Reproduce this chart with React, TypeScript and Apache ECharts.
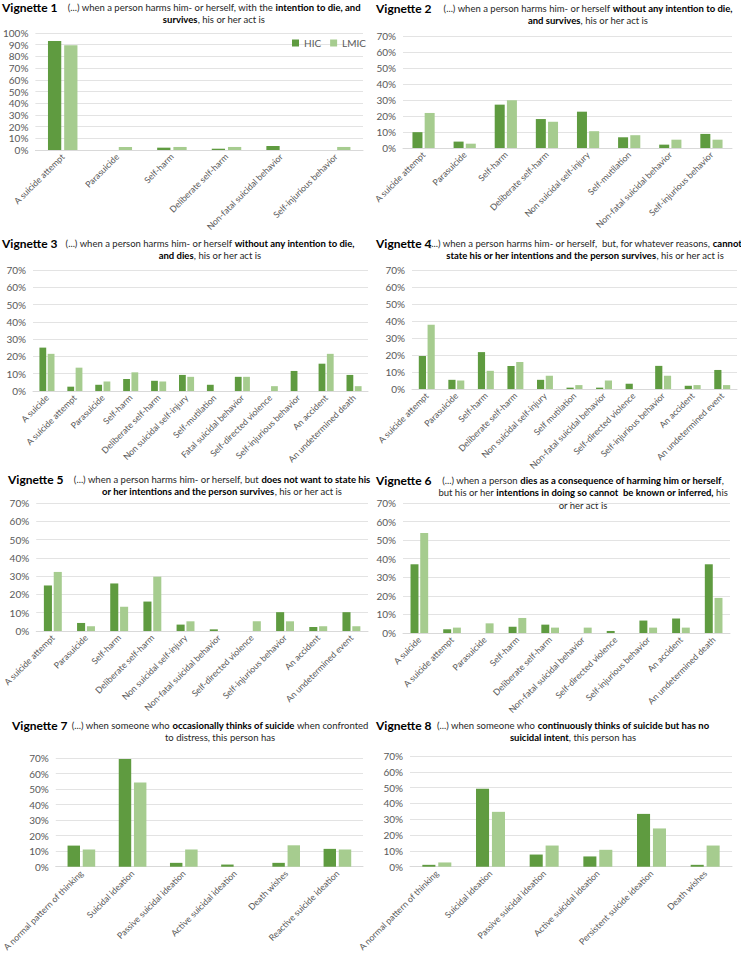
import React, { useEffect, useRef } from 'react';
import * as echarts from 'echarts';

// ---------- data ----------
const cats1 = ['A suicide attempt', 'Parasuicide', 'Self-harm', 'Deliberate self-harm', 'Non-fatal suicidal behavior', 'Self-injurious behavior'];
const hic1 = [93.2, 0, 2.0, 1.1, 3.4, 0];
const lmic1 = [89.5, 2.6, 2.6, 2.6, 0, 2.6];

const cats2 = ['A suicide attempt', 'Parasuicide', 'Self-harm', 'Deliberate self-harm', 'Non suicidal self-injury', 'Self-mutilation', 'Non-fatal suicidal behavior', 'Self-injurious behavior'];
const hic2 = [9.9, 4.0, 27.1, 18.1, 22.7, 6.7, 2.1, 8.8];
const lmic2 = [21.9, 2.7, 29.9, 16.4, 10.5, 8.0, 5.2, 5.2];

const cats3 = ['A suicide', 'A suicide attempt', 'Parasuicide', 'Self-harm', 'Deliberate self-harm', 'Non suicidal self-injury', 'Self-mutilation', 'Fatal suicidal behavior', 'Self-directed violence', 'Self-injurious behavior', 'An accident', 'An undetermined death'];
const hic3 = [25.1, 2.5, 3.6, 7.0, 5.9, 9.3, 3.6, 8.2, 0, 11.6, 15.8, 9.3];
const lmic3 = [21.5, 13.5, 5.5, 10.8, 5.5, 8.2, 0, 8.2, 2.8, 0, 21.5, 2.8];

const cats4 = ['A suicide attempt', 'Parasuicide', 'Self-harm', 'Deliberate self-harm', 'Non suicidal self-injury', 'Self mutilation', 'Non-fatal suicidal behavior', 'Self-directed violence', 'Self-injurious behavior', 'An accident', 'An undetermined event'];
const hic4 = [19.4, 5.4, 21.7, 13.6, 5.4, 0.8, 0.8, 3.1, 13.6, 1.9, 11.2];
const lmic4 = [37.8, 5.0, 10.7, 15.9, 7.8, 2.3, 5.0, 0, 7.8, 2.3, 2.3];

const cats5 = ['A suicide attempt', 'Parasuicide', 'Self-harm', 'Deliberate self-harm', 'Non suicidal self-injury', 'Non-fatal suicidal behavior', 'Self-directed violence', 'Self-injurious behavior', 'An accident', 'An undetermined event'];
const hic5 = [24.9, 4.4, 26.0, 16.1, 3.5, 0.9, 0, 10.3, 2.2, 10.3];
const lmic5 = [32.3, 2.6, 13.2, 29.7, 5.3, 0, 5.3, 5.3, 2.6, 2.6];

const cats6 = ['A suicide', 'A suicide attempt', 'Parasuicide', 'Self-harm', 'Deliberate self-harm', 'Non-fatal suicidal behavior', 'Self-directed violence', 'Self-injurious behavior', 'An accident', 'An undetermined death'];
const hic6 = [37.0, 2.0, 0, 3.4, 4.5, 0, 1.1, 6.7, 7.8, 37.0];
const lmic6 = [53.9, 2.9, 5.2, 8.1, 2.9, 2.9, 0, 2.9, 2.9, 18.9];

const cats7 = ['A normal pattern of thinking', 'Suicidal ideation', 'Passive suicidal ideation', 'Active suicidal ideation', 'Death wishes', 'Reactive suicide ideation'];
const hic7 = [13.6, 69.4, 2.5, 1.4, 2.5, 11.5];
const lmic7 = [11.1, 54.2, 11.1, 0, 13.8, 11.1];

const cats8 = ['A normal pattern of thinking', 'Suicidal ideation', 'Passive suicidal ideation', 'Active suicidal ideation', 'Persistent suicide ideation', 'Death wishes'];
const hic8 = [1.2, 49.3, 7.7, 6.5, 33.4, 1.2];
const lmic8 = [2.7, 34.7, 13.4, 10.7, 24.2, 13.4];

const yMax = [100, 70, 70, 70, 70, 70, 70, 70];
const seriesNames = ['HIC', 'LMIC'];

const vignetteLabels = ['Vignette 1', 'Vignette 2', 'Vignette 3', 'Vignette 4', 'Vignette 5', 'Vignette 6', 'Vignette 7', 'Vignette 8'];
const titleTexts = [
  '(...) when a person harms him- or herself, with the {b|intention to die, and}\n{b|survives}, his or her act is',
  '(...) when a person harms him- or herself {b|without any intention to die,}\n{b|and survives}, his or her act is',
  '(...) when a person harms him- or herself {b|without any intention to die,}\n{b|and dies}, his or her act is',
  '(...) when a person harms him- or herself,  but, for whatever reasons, {b|cannot}\n{b|state his or her intentions and the person survives}, his or her act is',
  '(...) when a person harms him- or herself, but {b|does not want to state his}\n{b|or her intentions and the person survives}, his or her act is',
  '(...) when a person {b|dies as a consequence of harming him or herself},\nbut his or her {b|intentions in doing so cannot  be known or inferred,} his\nor her act is',
  '(...) when someone who {b|occasionally thinks of suicide} when confronted\nto distress, this person has',
  '(...) when someone who {b|continuously thinks of suicide but has no}\n{b|suicidal intent}, this person has',
];

const allCats = [cats1, cats2, cats3, cats4, cats5, cats6, cats7, cats8];
const allHic = [hic1, hic2, hic3, hic4, hic5, hic6, hic7, hic8];
const allLmic = [lmic1, lmic2, lmic3, lmic4, lmic5, lmic6, lmic7, lmic8];

// ---------- layout ----------
const grids = [
  { left: 33, top: 33, right: 363, bottom: 150 },
  { left: 403, top: 36, right: 732, bottom: 148 },
  { left: 33, top: 270, right: 368, bottom: 391 },
  { left: 412, top: 270, right: 737, bottom: 389 },
  { left: 34, top: 503, right: 368, bottom: 631 },
  { left: 403, top: 503, right: 730, bottom: 633 },
  { left: 45, top: 758, right: 363, bottom: 878 },
  { left: 410, top: 756, right: 732, bottom: 877 },
];
const titlePos = [
  { cx: 214, y: 7, lx: 2 },
  { cx: 588, y: 8, lx: 376 },
  { cx: 210, y: 243, lx: 2 },
  { cx: 585, y: 243, lx: 376 },
  { cx: 222, y: 479, lx: 8 },
  { cx: 583, y: 480, lx: 376 },
  { cx: 220, y: 725, lx: 12 },
  { cx: 573, y: 725, lx: 376 },
];

const FONT = "Lato, 'Open Sans', sans-serif";
const DARK = '#5f9b40';
const LIGHT = '#a6cc8f';
const AXIS_TEXT = '#595959';

export default function App() {
  const ref = useRef<HTMLDivElement>(null);
  useEffect(() => {
    if (!ref.current) return;
    const chart = echarts.init(ref.current, undefined, { renderer: 'svg' });

    const grid = grids.map((g) => ({
      left: g.left,
      top: g.top,
      width: g.right - g.left,
      height: g.bottom - g.top,
      containLabel: false,
    }));

    const xAxis = allCats.map((cats, i) => ({
      type: 'category',
      gridIndex: i,
      data: cats,
      axisLine: { lineStyle: { color: '#d9d9d9' } },
      axisTick: { show: false },
      axisLabel: {
        interval: 0,
        rotate: 45,
        fontSize: 8.8,
        fontFamily: FONT,
        color: AXIS_TEXT,
        margin: 5,
      },
    }));

    const yAxis = yMax.map((m, i) => ({
      type: 'value',
      gridIndex: i,
      min: 0,
      max: m,
      interval: 10,
      axisLine: { show: false },
      axisTick: { show: false },
      splitLine: { lineStyle: { color: '#e3e3e3', width: 1 } },
      axisLabel: {
        formatter: (v: number) => v + '%',
        fontSize: 10,
        fontFamily: FONT,
        color: AXIS_TEXT,
        margin: 7,
      },
    }));

    const series: any[] = [];
    allCats.forEach((_, i) => {
      series.push({
        name: seriesNames[0],
        type: 'bar',
        xAxisIndex: i,
        yAxisIndex: i,
        data: allHic[i],
        itemStyle: { color: DARK },
        barGap: '22%',
        barCategoryGap: '46%',
      });
      series.push({
        name: seriesNames[1],
        type: 'bar',
        xAxisIndex: i,
        yAxisIndex: i,
        data: allLmic[i],
        itemStyle: { color: LIGHT },
        barGap: '22%',
        barCategoryGap: '46%',
      });
    });

    const graphic: any[] = [];
    titlePos.forEach((p, i) => {
      graphic.push({
        type: 'text',
        x: p.lx,
        y: p.y,
        silent: true,
        style: {
          text: vignetteLabels[i],
          fontFamily: FONT,
          fontSize: 12,
          fontWeight: 'bold',
          fill: '#000',
          align: 'left',
          verticalAlign: 'middle',
        },
      });
      graphic.push({
        type: 'text',
        x: p.cx,
        y: p.y - 6,
        silent: true,
        style: {
          text: titleTexts[i],
          fontFamily: FONT,
          fontSize: 9.5,
          fill: '#262626',
          align: 'center',
          verticalAlign: 'top',
          lineHeight: 12.5,
          rich: {
            b: {
              fontFamily: FONT,
              fontSize: 9.5,
              fontWeight: 'bold',
              fill: '#000',
              lineHeight: 12.5,
            },
          },
        },
      });
    });

    chart.setOption({
      animation: false,
      backgroundColor: '#fff',
      grid,
      xAxis,
      yAxis,
      series,
      legend: {
        data: seriesNames,
        left: 287,
        top: 33,
        icon: 'rect',
        itemWidth: 7,
        itemHeight: 7,
        itemGap: 9,
        textStyle: { fontSize: 10, fontFamily: FONT, color: AXIS_TEXT },
      },
      graphic,
    });

    return () => chart.dispose();
  }, []);

  return (
    <div
      ref={ref}
      style={{ position: 'absolute', left: 0, top: 0, width: 741, height: 954, background: '#fff' }}
    />
  );
}
